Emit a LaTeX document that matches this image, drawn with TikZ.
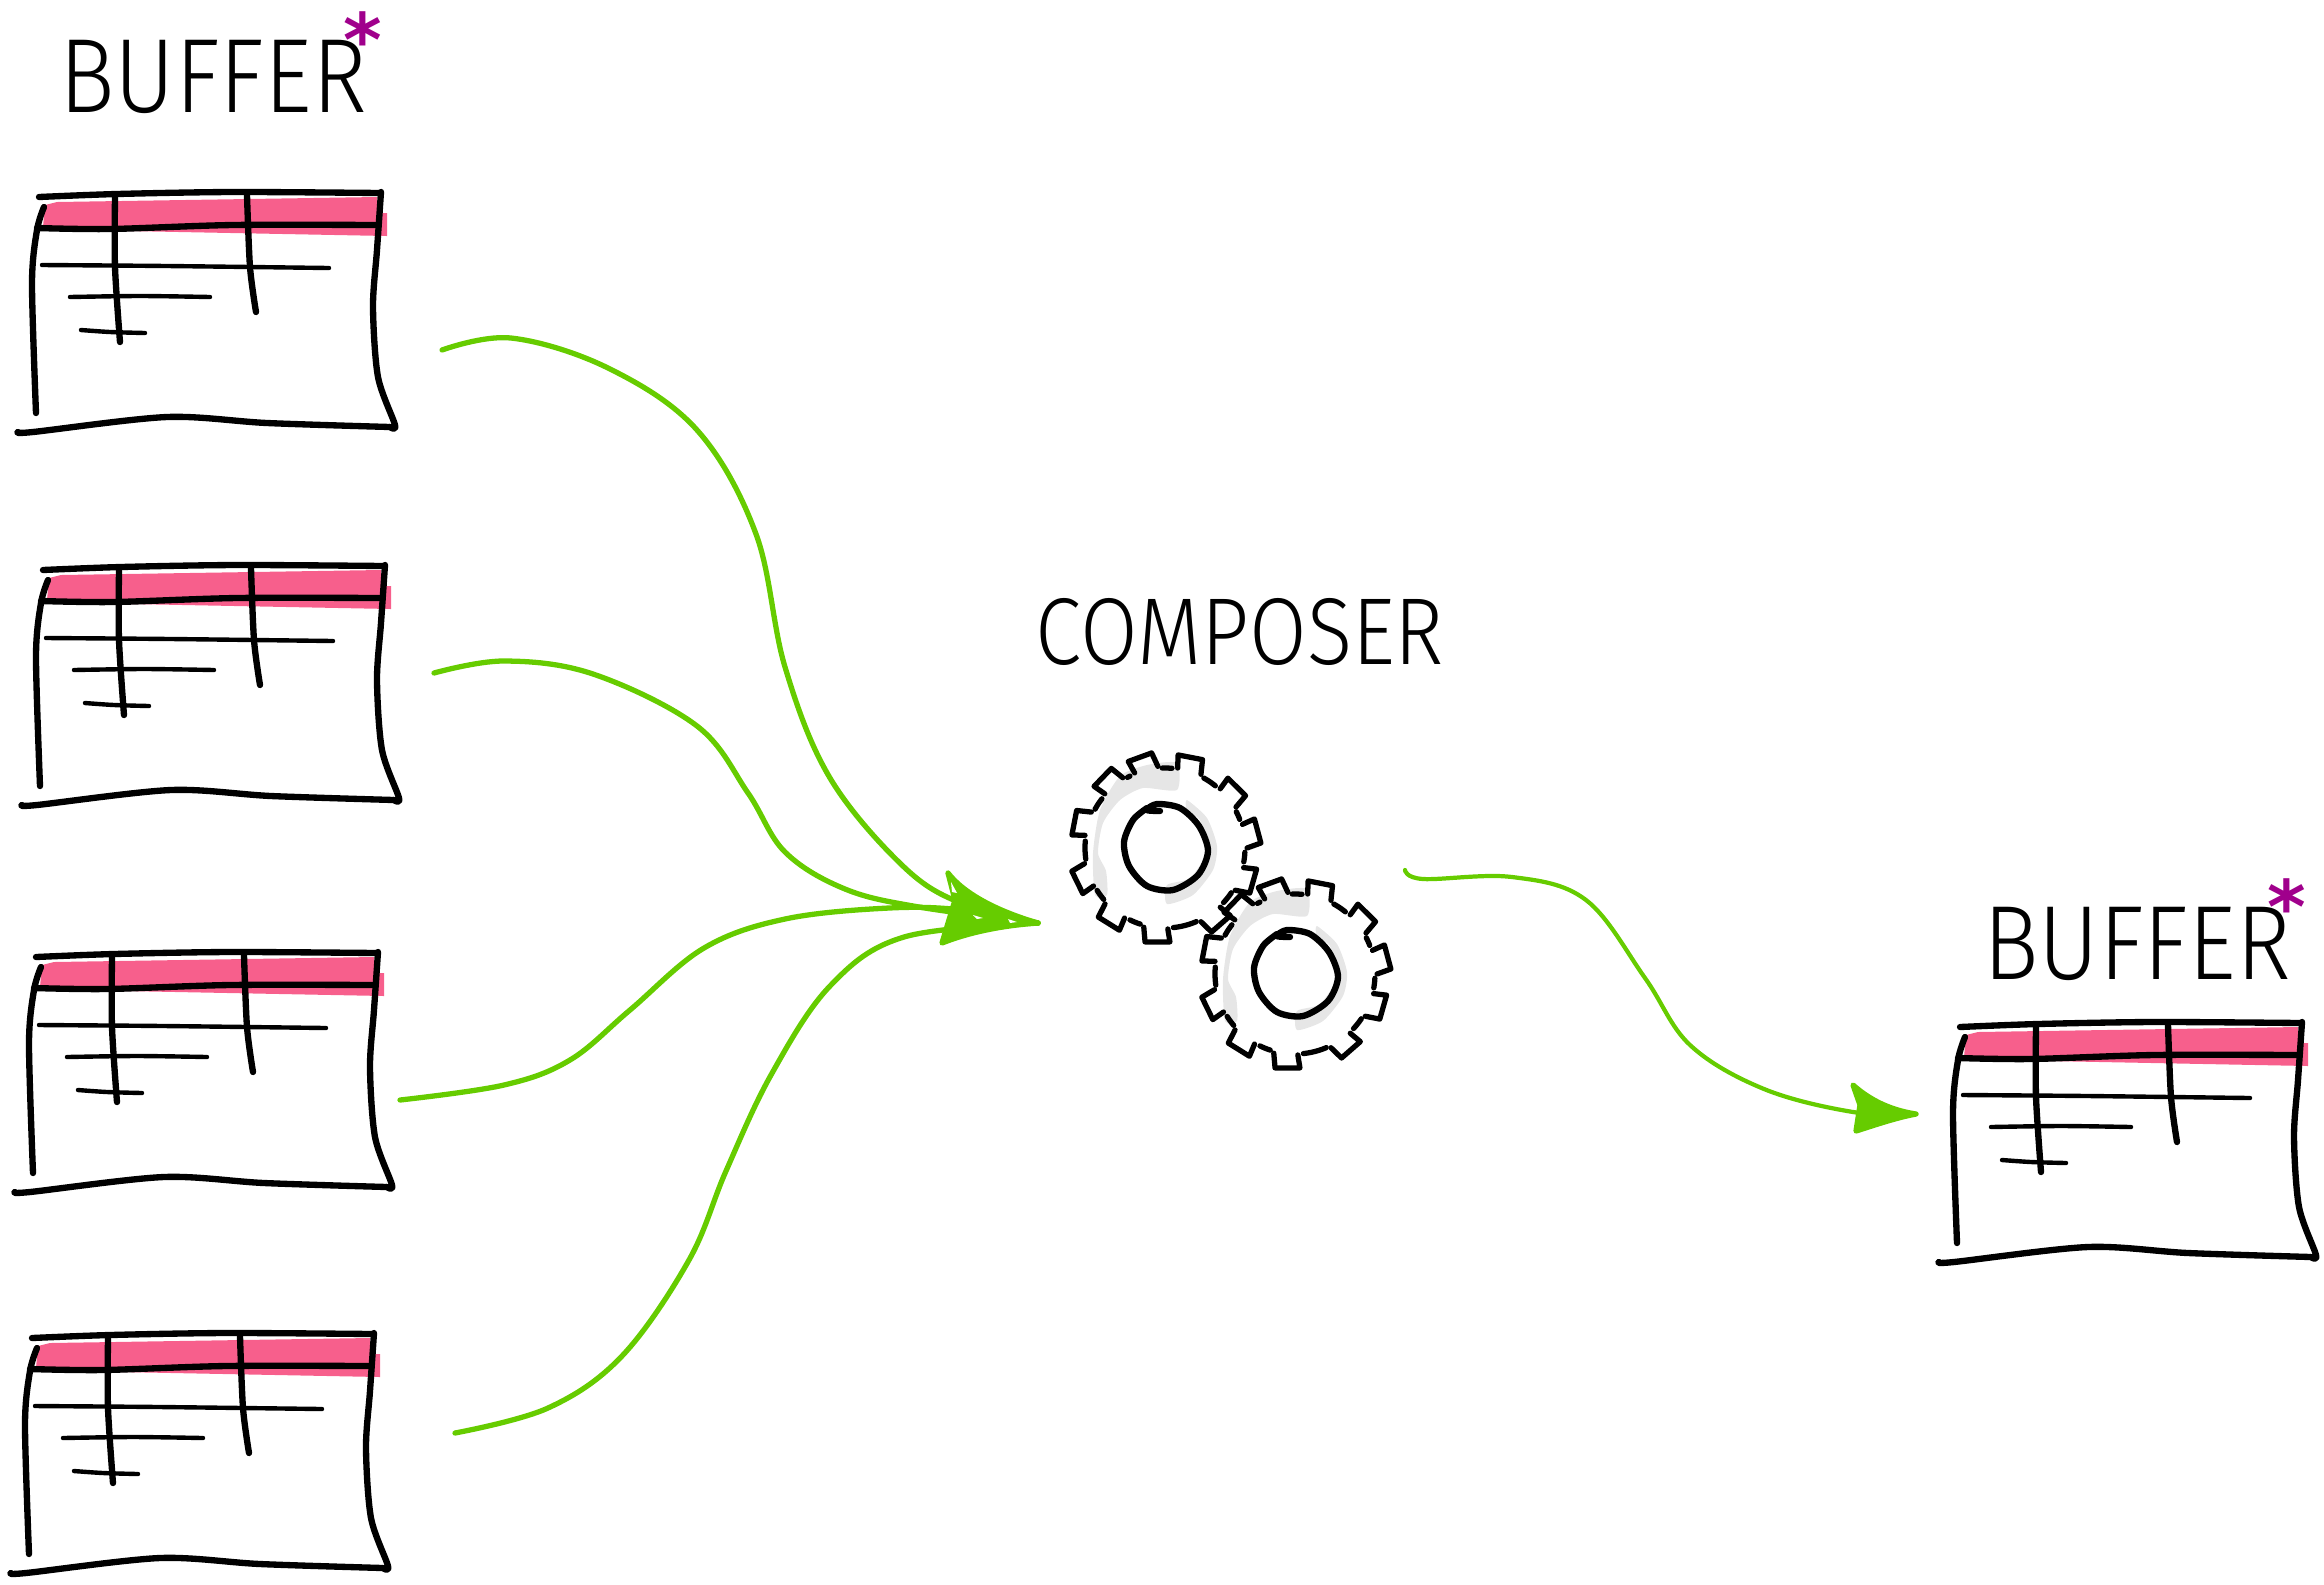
\documentclass[tikz,border=0pt]{standalone}
\usepackage{fontspec}
\newfontfamily\handfont[FakeStretch=0.88]{Fira Sans Light}
\newfontfamily\starfont{DejaVu Sans Bold}
\definecolor{flowgreen}{HTML}{66CC00}
\definecolor{headpink}{HTML}{F75F8C}
\definecolor{starpurple}{HTML}{A0008C}
\definecolor{geargray}{HTML}{E6E6E6}
\tikzset{
    ink/.style={color=black,line width=1.8pt},
    thinink/.style={color=black,line width=1.25pt},
    gearink/.style={color=black,line width=1.5pt},
    flow/.style={color=flowgreen,line width=1.5pt},
    hand/.style={inner sep=0pt,font=\handfont\fontsize{30}{30}\selectfont},
    star/.style={inner sep=0pt,color=starpurple,font=\starfont\fontsize{21}{21}\selectfont},
    buffertable/.pic={
        \fill[headpink] (43,227) -- (45,205) -- (57,202) -- (377,197) -- (377,213) -- (387,213) -- (387,236) -- (127,231) -- cycle;
        \draw[ink] plot[smooth] coordinates {(39,197) (117,194) (233,192) (380,193)};
        \draw[ink] plot[smooth] coordinates {(37,228) (110,229) (233,225) (377,225)};
        \draw[ink] plot[smooth] coordinates {(44,207) (37,230) (32,283) (36,413)};
        \draw[ink] plot[smooth] coordinates {(381,192) (377,250) (373,307) (378,377) (395,425) (390,427)};
        \draw[ink] plot[smooth] coordinates {(18,432) (33,432) (167,417) (267,423) (390,427)};
        \draw[ink] plot[smooth] coordinates {(115,197) (115,267) (120,342)};
        \draw[ink] plot[smooth] coordinates {(247,195) (250,267) (256,312)};
        \draw[thinink] plot[smooth] coordinates {(42,265) (167,266) (329,268)};
        \draw[thinink] plot[smooth] coordinates {(70,297) (140,296) (210,297)};
        \draw[thinink] plot[smooth] coordinates {(81,330) (110,332) (145,333)};
    },
    gearpic/.pic={
        \fill[geargray] plot[smooth cycle,tension=.4] coordinates {(12,-85) (-18,-83) (-45,-72) (-65,-38) (-72,5) (-70,47) (-58,47) (-59,23) (-67,5) (-62,-25) (-45,-48) (-22,-60) (12,-58)};
        \fill[geargray] plot[smooth cycle,tension=.4] coordinates {(22,-48) (42,-30) (52,-2) (48,22) (28,47) (2,56) (2,37) (25,30) (43,2) (35,-28) (22,-38)};
        \foreach \a/\b in {-104/-73,-73/-39,-39/-9,-9/22,22/55,55/96,96/128,128/160,160/197,197/230,230/256} {
            \pgfmathsetmacro{\u}{\a+12}
            \pgfmathsetmacro{\v}{\b-12}
            \draw[gearink] ({\a-8}:81) -- ({\a-9}:94) -- ({\a+6}:96) -- ({\a+9}:82);
            \draw[gearink,domain=\u:\v,samples=7,smooth,variable=\t] plot (\t:80);
        }
        \draw[ink] plot[smooth] coordinates {(-5,-37) (-18,-38) (-8,-44) (15,-40) (34,-22) (43,3) (33,27) (8,42) (-18,38) (-36,18) (-41,-6) (-32,-28) (-18,-40)};
    },
    bufferlabel/.pic={
        \node[hand] (-text) at (213,77) {BUFFER};
        \node[star] (-mark) at (363,39) {*};
    },
}
\begin{document}
\begin{tikzpicture}[line cap=round,line join=round,x=0.01cm,y=-0.01cm]
    \useasboundingbox (0,0) rectangle (2324,1584);
    % tables and titles
    \pic (titleA) at (0,0) {bufferlabel};
    \pic (titleB) at (1924,867) {bufferlabel};
    \pic (bufferA) at (0,0) {buffertable};
    \pic (bufferB) at (4,373) {buffertable};
    \pic (bufferC) at (-3,760) {buffertable};
    \pic (bufferD) at (-7,1141) {buffertable};
    \pic (bufferE) at (1921,830) {buffertable};
    % composer
    \node[hand,font=\handfont\fontsize{27}{27}\selectfont] (composer) at (1240,632) {COMPOSER};
    \pic (gearA) at (1165,848) {gearpic};
    \pic (gearB) at (1295,974) {gearpic};
    % connector ends
    \coordinate (outA) at (442,350);
    \coordinate (outB) at (434,673);
    \coordinate (outC) at (400,1100);
    \coordinate (outD) at (455,1433);
    \coordinate (hub) at (1038,923);
    \coordinate (outE) at (1405,870);
    \coordinate (inE) at (1916,1114);
    \draw[flow] plot[smooth,tension=.6] coordinates {(outA) (511,338) (608,368) (697,430) (756,534) (785,667) (830,778) (904,867) (963,904) (hub)};
    \draw[flow] plot[smooth,tension=.6] coordinates {(outB) (504,661) (593,674) (697,726) (748,793) (785,852) (845,889) (919,907) (hub)};
    \draw[flow] plot[smooth,tension=.6] coordinates {(outC) (504,1085) (570,1060) (630,1010) (704,948) (785,919) (889,908) (963,910) (hub)};
    \draw[flow] plot[smooth,tension=.6] coordinates {(outD) (548,1408) (622,1356) (689,1260) (726,1171) (771,1075) (830,986) (904,937) (hub)};
    \draw[flow,line width=1.2pt] plot[smooth,tension=.6] coordinates {(outE) (1423,879) (1512,877) (1586,900) (1645,978) (1690,1045) (1764,1089) (1853,1112) (inE)};
    % arrow heads
    \draw[flow,fill=flowgreen] (hub) .. controls (1000,912) and (965,895) .. (948,873) -- (955,900) -- (942,943) .. controls (975,930) and (1010,925) .. (hub);
    \fill[white] (951,882) -- (957,893) -- (952,892) -- cycle;
    \fill[white] (973,915) -- (983,918) -- (977,919) -- cycle;
    \fill[white] (1008,919) -- (1017,922) -- (1010,923) -- cycle;
    \draw[flow,fill=flowgreen] (inE) .. controls (1890,1110) and (1870,1100) .. (1853,1085) -- (1860,1105) -- (1856,1131) .. controls (1875,1125) and (1895,1118) .. (inE);
\end{tikzpicture}
\end{document}
